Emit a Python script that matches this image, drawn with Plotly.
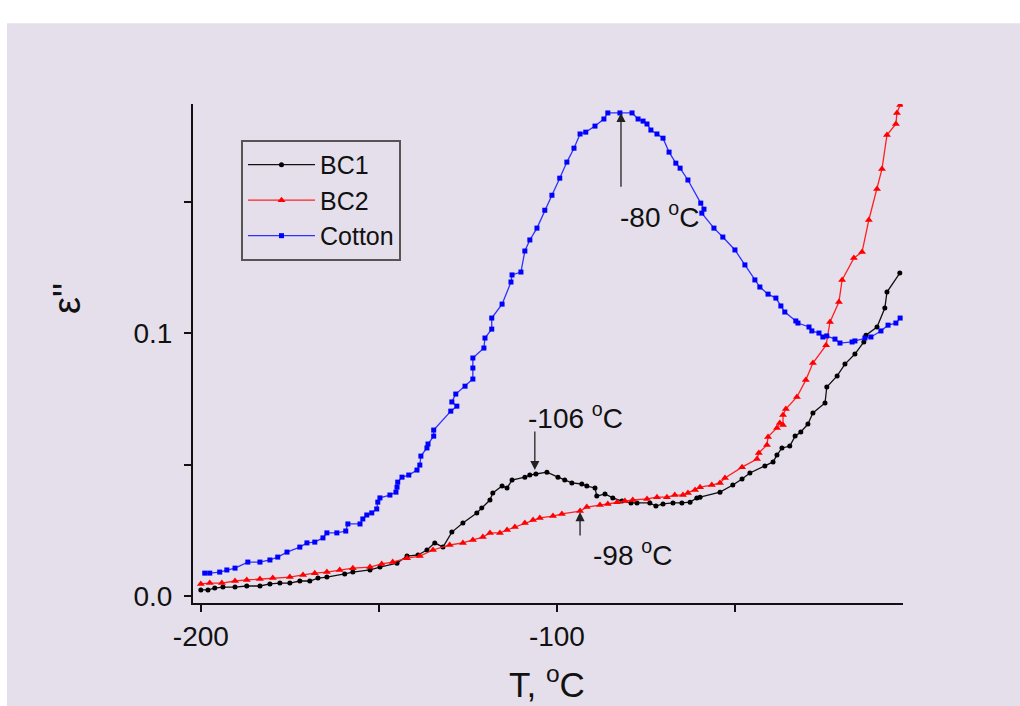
import plotly.graph_objects as go

# ---- data ----
cotton_T = [-198.9, -197.5, -194.7, -192.7, -190.4, -186.8, -183.4, -180.6, -178.4, -175.8,
            -172.2, -170.2, -168.0, -165.7, -164.6, -161.8, -159.3, -158.7, -155.3, -154.5,
            -153.4, -152.0, -150.6, -150.3, -149.7, -146.9, -145.2, -144.9, -144.7, -143.5,
            -141.6, -139.3, -138.5, -138.2, -136.5, -136.2, -134.6, -134.6, -129.8, -128.1,
            -129.5, -128.4, -125.8, -123.6, -123.6, -123.6, -120.5, -120.2, -118.3, -118.3,
            -115.4, -112.9, -112.6, -110.1, -109.0, -107.6, -105.6, -103.4, -101.4, -99.2,
            -97.2, -95.2, -93.5, -91.9, -89.3, -86.8, -85.7, -82.3, -78.9, -77.2,
            -75.8, -74.7, -73.6, -71.9, -70.2, -68.5, -66.6, -65.4, -63.2, -59.6,
            -58.7, -59.3, -55.9, -53.4, -50.0, -47.2, -44.4, -43.0, -40.7, -38.5,
            -37.1, -36.0, -32.9, -32.3, -29.2, -28.4, -26.4, -25.3, -24.2, -21.9,
            -20.5, -17.1, -16.3, -13.5, -11.8, -9.0, -7.0, -4.8, -3.6]
cotton_e = [0.0087, 0.0087, 0.0091, 0.0099, 0.0106, 0.0129, 0.0129, 0.0137, 0.0148, 0.0167,
            0.0186, 0.0202, 0.0205, 0.0221, 0.0240, 0.0240, 0.0247, 0.0274, 0.0274, 0.0293,
            0.0308, 0.0316, 0.0331, 0.0357, 0.0373, 0.0384, 0.0395, 0.0414, 0.0433, 0.0452,
            0.0460, 0.0479, 0.0498, 0.0532, 0.0563, 0.0578, 0.0608, 0.0631, 0.0703, 0.0722,
            0.0738, 0.0768, 0.0798, 0.0825, 0.0867, 0.0905, 0.0943, 0.0981, 0.1015, 0.1057,
            0.1110, 0.1194, 0.1221, 0.1232, 0.1312, 0.1354, 0.1399, 0.1467, 0.1524, 0.1589,
            0.1650, 0.1703, 0.1757, 0.1764, 0.1787, 0.1814, 0.1837, 0.1837, 0.1837, 0.1814,
            0.1806, 0.1795, 0.1772, 0.1757, 0.1741, 0.1688, 0.1646, 0.1627, 0.1582, 0.1494,
            0.1471, 0.1456, 0.1399, 0.1365, 0.1316, 0.1259, 0.1202, 0.1175, 0.1148, 0.1133,
            0.1103, 0.1080, 0.1046, 0.1038, 0.1023, 0.1008, 0.1000, 0.0985, 0.0989, 0.0977,
            0.0962, 0.0966, 0.0970, 0.0981, 0.0985, 0.1008, 0.1030, 0.1038, 0.1057]

bc1_T = [-200.0, -198.0, -196.1, -193.8, -190.4, -187.1, -183.4, -180.6, -177.8, -175.0,
         -172.2, -169.4, -167.1, -164.6, -159.6, -157.3, -152.5, -149.7, -144.9, -142.1,
         -139.0, -136.5, -134.3, -132.0, -129.5, -126.4, -122.5, -121.1, -118.8, -118.0,
         -115.4, -114.0, -112.6, -109.0, -107.6, -105.9, -102.8, -99.7, -97.8, -95.8,
         -93.0, -91.6, -89.3, -88.8, -86.5, -84.3, -81.7, -79.2, -77.5, -73.9,
         -72.2, -70.2, -67.4, -64.9, -62.6, -60.7, -59.8, -54.2, -50.6, -48.0,
         -45.8, -41.6, -39.3, -38.2, -36.8, -34.6, -33.1, -31.5, -29.5, -28.1,
         -24.7, -24.2, -21.3, -19.1, -16.3, -13.8, -13.2, -10.1, -7.9, -7.3, -3.7]
bc1_e = [0.0023, 0.0023, 0.0030, 0.0034, 0.0034, 0.0038, 0.0038, 0.0046, 0.0049, 0.0049,
         0.0057, 0.0057, 0.0068, 0.0072, 0.0084, 0.0091, 0.0099, 0.0110, 0.0125, 0.0152,
         0.0156, 0.0175, 0.0202, 0.0186, 0.0243, 0.0278, 0.0316, 0.0335, 0.0365, 0.0392,
         0.0418, 0.0411, 0.0441, 0.0452, 0.0460, 0.0464, 0.0471, 0.0452, 0.0441, 0.0430,
         0.0426, 0.0418, 0.0411, 0.0380, 0.0388, 0.0373, 0.0361, 0.0354, 0.0354, 0.0354,
         0.0342, 0.0350, 0.0354, 0.0354, 0.0357, 0.0373, 0.0376, 0.0395, 0.0422, 0.0445,
         0.0468, 0.0494, 0.0510, 0.0536, 0.0563, 0.0570, 0.0608, 0.0624, 0.0654, 0.0696,
         0.0734, 0.0795, 0.0837, 0.0882, 0.0920, 0.0966, 0.0992, 0.1023, 0.1095, 0.1156, 0.1228]

bc2_T = [-200.0, -197.5, -194.1, -190.4, -187.1, -183.4, -179.8, -175.0, -171.3, -168.0,
         -164.6, -161.0, -157.3, -152.5, -149.2, -146.1, -142.1, -138.5, -134.8, -130.1,
         -126.4, -123.6, -120.8, -118.8, -116.0, -114.0, -111.8, -109.0, -106.7, -104.8,
         -101.1, -98.6, -93.5, -91.6, -87.9, -85.7, -83.1, -80.9, -78.7, -74.7,
         -71.9, -69.1, -66.9, -64.6, -63.2, -61.2, -59.8, -56.5, -54.2, -52.8,
         -48.0, -43.8, -43.3, -41.0, -40.7, -38.2, -37.4, -36.5, -36.5, -35.7,
         -32.6, -30.1, -28.1, -24.4, -23.3, -20.8, -19.9, -16.6, -14.3, -12.4,
         -10.1, -8.7, -7.3, -4.8, -4.5, -3.6]
bc2_e = [0.0046, 0.0049, 0.0049, 0.0057, 0.0061, 0.0065, 0.0068, 0.0072, 0.0080, 0.0087,
         0.0091, 0.0099, 0.0106, 0.0110, 0.0122, 0.0129, 0.0144, 0.0152, 0.0175, 0.0194,
         0.0202, 0.0213, 0.0224, 0.0240, 0.0240, 0.0251, 0.0262, 0.0278, 0.0289, 0.0297,
         0.0304, 0.0312, 0.0323, 0.0338, 0.0346, 0.0350, 0.0357, 0.0361, 0.0365, 0.0369,
         0.0376, 0.0376, 0.0384, 0.0384, 0.0392, 0.0403, 0.0414, 0.0422, 0.0430, 0.0449,
         0.0490, 0.0521, 0.0544, 0.0574, 0.0605, 0.0639, 0.0658, 0.0650, 0.0688, 0.0711,
         0.0757, 0.0821, 0.0886, 0.0954, 0.1042, 0.1118, 0.1202, 0.1285, 0.1308, 0.1430,
         0.1548, 0.1624, 0.1753, 0.1795, 0.1837, 0.1867]

x_tickvals = [-200, -150, -100, -50]
x_ticktext = ["-200", "", "-100", ""]
y_tickvals = [0.0, 0.05, 0.1, 0.15]
y_ticktext = ["0.0", "", "0.1", ""]

FONT = "Liberation Sans, Arial, sans-serif"
BG = "#e4dfeb"
INK = "#111111"

fig = go.Figure()
fig.add_trace(go.Scatter(x=bc1_T, y=bc1_e, name="BC1", mode="lines+markers",
                         line=dict(color="#111111", width=1.3),
                         marker=dict(symbol="circle", size=5, color="#000000")))
fig.add_trace(go.Scatter(x=bc2_T, y=bc2_e, name="BC2", mode="lines+markers",
                         line=dict(color="#ff2020", width=1.3),
                         marker=dict(symbol="triangle-up", size=7, color="#ff0000")))
fig.add_trace(go.Scatter(x=cotton_T, y=cotton_e, name="Cotton", mode="lines+markers",
                         line=dict(color="#3030ff", width=1.3),
                         marker=dict(symbol="square", size=5, color="#0000ff")))

# peak markers (arrows)
arrow_style = dict(showarrow=True, arrowhead=2, arrowsize=1.4, arrowwidth=1.3,
                   arrowcolor="#222222", axref="x", ayref="y", text="")
fig.add_annotation(x=-82.0, y=0.1837, ax=-82.0, ay=0.1551, **arrow_style)
fig.add_annotation(x=-106.2, y=0.0479, ax=-106.2, ay=0.0631, **arrow_style)
fig.add_annotation(x=-93.5, y=0.0319, ax=-93.5, ay=0.0224, **arrow_style)

lab_font = dict(family=FONT, size=28, color=INK)
fig.add_annotation(x=-71.3, y=0.1449, text="-80 <sup>o</sup>C", showarrow=False, font=lab_font,
                   xanchor="center", yanchor="middle")
fig.add_annotation(x=-94.9, y=0.0685, text="-106 <sup>o</sup>C", showarrow=False, font=lab_font,
                   xanchor="center", yanchor="middle")
fig.add_annotation(x=-78.9, y=0.0163, text="-98 <sup>o</sup>C", showarrow=False, font=lab_font,
                   xanchor="center", yanchor="middle")

# axis titles
fig.add_annotation(xref="paper", yref="paper", x=-0.1775, y=0.611, text="ε''",
                   textangle=-90, showarrow=False, xanchor="center", yanchor="middle",
                   font=dict(family=FONT, size=38, color=INK))
fig.add_annotation(xref="paper", yref="paper", x=0.4986, y=-0.158, text="T, <sup>o</sup>C",
                   showarrow=False, xanchor="center", yanchor="middle",
                   font=dict(family=FONT, size=35, color=INK))

# white strips around the lavender panel
fig.add_shape(type="rect", xref="paper", yref="paper", x0=-0.3, x1=1.2, y0=1.162, y1=1.25,
              fillcolor="white", line=dict(width=0), layer="below")
fig.add_shape(type="rect", xref="paper", yref="paper", x0=-0.3, x1=-0.262, y0=-0.25, y1=1.25,
              fillcolor="white", line=dict(width=0), layer="below")

axis_common = dict(showgrid=False, zeroline=False, showline=True, linecolor=INK,
                   linewidth=2, ticks="outside", ticklen=7, tickwidth=2, tickcolor=INK,
                   tickfont=dict(family=FONT, size=28, color=INK), mirror=False)

fig.update_layout(
    width=1020, height=706,
    margin=dict(l=193, r=117, t=104, b=103),
    paper_bgcolor=BG, plot_bgcolor=BG,
    font=dict(family=FONT),
    xaxis=dict(range=[-202.2, -2.8], tickvals=x_tickvals, ticktext=x_ticktext, **axis_common),
    yaxis=dict(range=[-0.00266, 0.1871], tickvals=y_tickvals, ticktext=y_ticktext,
               ticklabelstandoff=6, **axis_common),
    legend=dict(x=0.0676, y=0.928, xanchor="left", yanchor="top",
                bgcolor=BG, bordercolor="#555555", borderwidth=2,
                font=dict(family=FONT, size=25, color=INK),
                itemwidth=67, tracegroupgap=0),
    showlegend=True,
)

fig.write_html("out.html")
